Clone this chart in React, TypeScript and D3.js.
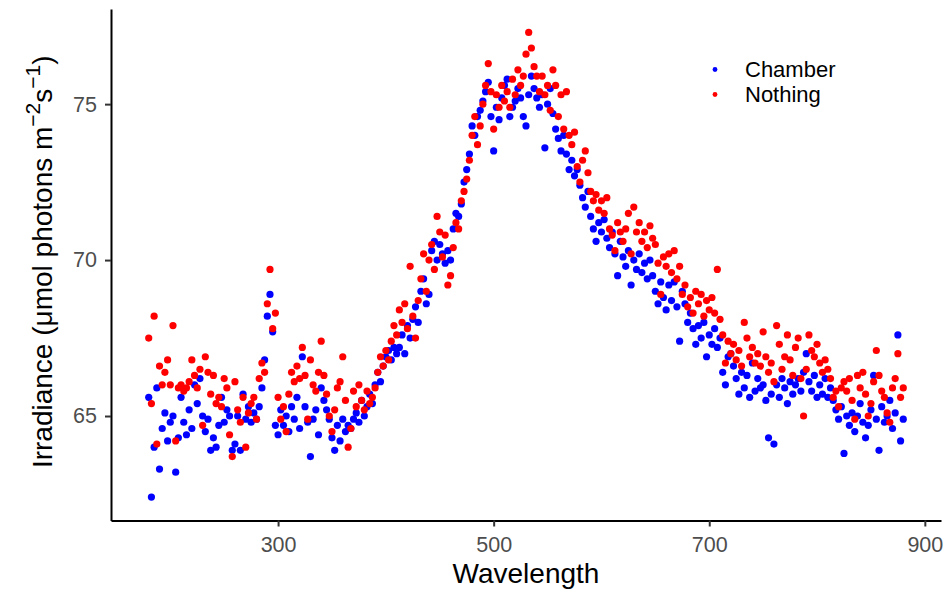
import { useEffect, useRef } from 'react';
import * as d3 from 'd3';

// spectrometer grid: 2.5 nm steps, 180 -> 880 nm
const wavelengths: number[] = d3.range(180, 880.001, 2.5);

const chamber: number[] = [
  65.6, 62.4, 64.0, 65.9, 63.3, 64.6, 65.1, 64.2, 64.8, 65.0,
  63.2, 64.3, 65.6, 64.8, 64.4, 65.2, 64.6, 66.0, 65.4, 66.2,
  65.0, 64.5, 64.9, 63.9, 64.3, 64.0, 64.7, 65.6, 64.8, 65.2,
  65.0, 63.9, 64.1, 65.0, 63.9, 65.7, 64.9, 65.3, 64.8, 65.1,
  64.9, 65.3, 65.9, 66.8, 68.2, 68.9, 67.7, 64.7, 64.4, 65.2,
  64.7, 65.0, 64.5, 65.3, 64.9, 65.6, 64.6, 66.9, 65.3, 64.8,
  63.7, 64.9, 65.2, 64.4, 65.9, 65.5, 65.2, 64.9, 64.3, 63.9,
  64.7, 64.2, 64.9, 64.5, 64.7, 64.6, 64.9, 65.1, 64.8, 65.5,
  65.0, 65.3, 65.7, 65.4, 66.0, 66.4, 66.1, 66.6, 66.9, 67.1,
  66.8, 67.2, 67.0, 67.2, 67.6, 67.0, 67.9, 67.5, 68.1, 68.5,
  68.0, 69.0, 69.4, 68.6, 68.9, 70.3, 70.6, 70.0, 70.5, 70.2,
  69.9, 70.3, 70.0, 71.0, 71.5, 71.4, 71.8, 72.5, 72.9, 73.4,
  74.3, 74.0, 74.6, 74.8, 75.1, 75.4, 75.7, 74.6, 73.5, 74.9,
  74.5, 75.2, 75.6, 75.8, 74.6, 74.9, 75.1, 75.5, 75.2, 74.6,
  74.3, 75.3, 75.9, 75.5, 75.2, 74.9, 75.3, 73.6, 75.0, 75.5,
  74.7, 74.2, 73.9, 73.5, 74.0, 73.4, 72.9, 73.2, 72.7, 72.9,
  72.4, 72.0, 71.7, 72.2, 71.4, 71.0, 70.6, 71.2, 70.9, 71.3,
  70.7, 70.4, 70.9, 70.2, 69.5, 70.6, 70.1, 69.8, 70.3, 69.2,
  70.0, 69.7, 70.2, 69.6, 69.9, 69.4, 70.0, 69.5, 69.0, 68.6,
  69.3, 68.8, 68.4, 69.2, 68.7, 69.3, 68.5, 67.4, 69.0, 68.6,
  68.0, 68.3, 67.8, 67.3, 67.9, 67.5, 68.0, 66.9, 67.6, 67.3,
  67.8, 67.2, 67.5, 66.4, 66.0, 66.9, 67.0, 66.6, 66.2, 65.7,
  66.4, 65.9, 66.3, 65.6, 66.7, 65.8, 66.2, 65.9, 66.0, 65.5,
  64.3, 65.7, 64.1, 66.0, 65.6, 66.2, 65.9, 65.4, 66.1, 65.7,
  66.0, 66.2, 65.8, 66.4, 67.0, 66.1, 65.8, 66.3, 65.6, 66.0,
  65.7, 66.2, 65.6, 65.9, 65.5, 65.2, 64.9, 65.3, 63.8, 65.0,
  64.7, 65.1, 64.5, 65.0, 65.4, 64.8, 64.3, 64.7, 65.2, 66.3,
  64.9, 63.9, 65.3, 64.8, 65.0, 65.5, 64.6, 65.1, 67.6, 64.2,
  64.9,
];

const nothing: number[] = [
  67.5, 65.4, 68.2, 64.1, 66.6, 66.0, 66.4, 66.8, 66.0, 67.9,
  64.2, 65.9, 66.0, 65.8, 65.9, 66.1, 66.8, 66.3, 65.9, 66.5,
  64.7, 66.9, 66.4, 65.7, 66.3, 65.4, 65.6, 65.3, 66.2, 65.9,
  64.4, 63.7, 66.1, 65.2, 64.8, 65.6, 64.0, 65.1, 65.4, 65.6,
  64.9, 66.2, 66.7, 66.4, 68.6, 69.7, 67.8, 68.3, 65.6, 64.9,
  65.3, 64.5, 65.7, 66.4, 66.1, 66.6, 66.2, 67.2, 66.3, 64.9,
  66.8, 66.0, 65.8, 66.4, 67.4, 66.3, 65.7, 65.0, 64.5, 65.2,
  65.9, 66.1, 66.9, 65.5, 64.0, 64.6, 65.8, 65.3, 66.0, 65.5,
  65.2, 65.8, 65.4, 65.6, 65.9, 66.4, 66.9, 66.6, 67.1, 66.8,
  67.4, 67.9, 67.6, 68.4, 68.0, 68.6, 67.8, 69.8, 68.2, 67.5,
  68.7, 69.4, 70.2, 69.0, 70.0, 70.5, 69.7, 71.4, 70.9, 70.1,
  70.8, 69.2, 69.5, 70.4, 71.2, 71.0, 71.9, 72.2, 72.6, 73.2,
  74.0, 74.6, 73.7, 74.3, 75.0, 75.6, 76.3, 75.4, 74.2, 75.3,
  74.9, 75.6, 75.1, 75.4, 74.9, 75.8, 75.3, 76.1, 75.6, 75.9,
  76.6, 77.3, 76.8, 76.2, 75.9, 75.4, 75.9, 75.3, 75.6, 74.8,
  76.1, 75.6, 74.6, 75.3, 74.2, 75.4, 74.0, 73.7, 74.1, 73.0,
  72.5, 73.2, 73.5, 72.8, 72.2, 71.9, 72.1, 71.6, 71.9, 71.5,
  72.0, 71.0, 70.8, 70.3, 71.2, 70.9, 70.6, 71.0, 71.5, 70.2,
  71.7, 70.9, 71.2, 70.6, 70.9, 70.4, 71.1, 70.7, 70.5, 69.9,
  68.9, 70.1, 69.8, 70.2, 69.6, 70.3, 69.4, 69.8, 68.9, 69.2,
  68.5, 68.8, 68.3, 69.0, 68.6, 68.9, 68.2, 68.7, 68.4, 68.8,
  68.3, 69.7, 68.1, 67.6, 66.7, 67.4, 67.0, 67.3, 66.8, 67.1,
  66.6, 68.0, 67.5, 66.9, 67.2, 66.7, 67.0, 66.6, 67.7, 66.9,
  66.4, 66.7, 66.1, 67.9, 67.3, 66.5, 66.9, 67.6, 66.8, 66.3,
  67.2, 67.5, 66.2, 65.0, 66.5, 67.6, 67.1, 66.9, 67.3, 66.7,
  66.4, 66.8, 66.5, 66.2, 65.6, 65.8, 65.3, 65.9, 66.1, 65.8,
  66.2, 65.5, 64.9, 66.3, 65.9, 66.4, 65.7, 65.0, 65.4, 66.1,
  67.1, 66.3, 65.8, 65.6, 65.1, 64.8, 65.9, 66.2, 67.0, 65.6,
  65.9,
];

const groups = ['Chamber', 'Nothing'];
const xTicks = [300, 500, 700, 900];
const yTicks = [65, 70, 75];

export default function App() {
  const svgRef = useRef<SVGSVGElement>(null);

  useEffect(() => {
    if (!svgRef.current) return;
    document.body.style.margin = '0';

    const svg = d3.select(svgRef.current);
    svg.selectAll('*').remove();

    const left = 111, right = 941, top = 9, bottom = 520.5;
    const font = '"Liberation Sans", Arial, sans-serif';
    const color = d3.scaleOrdinal<string, string>().domain(groups).range(['#0000ff', '#ff0000']);

    const x = d3.scaleLinear().domain([145, 915]).range([left, right]);
    const y = d3.scaleLinear().domain([61.65, 78.05]).range([bottom, top]);

    const data = [chamber, nothing];

    // points, Chamber underneath
    data.forEach((vals, i) => {
      svg.append('g')
        .selectAll('circle')
        .data(vals)
        .enter()
        .append('circle')
        .attr('cx', (_, j) => x(wavelengths[j]))
        .attr('cy', d => y(d))
        .attr('r', 3.6)
        .attr('fill', color(groups[i]));
    });

    // axes
    const xAxis = svg.append('g')
      .attr('transform', `translate(0,${bottom})`)
      .call(d3.axisBottom(x).tickValues(xTicks).tickSize(6).tickPadding(10).tickSizeOuter(0));
    const yAxis = svg.append('g')
      .attr('transform', `translate(${left},0)`)
      .call(d3.axisLeft(y).tickValues(yTicks).tickSize(6).tickPadding(8).tickSizeOuter(0));

    [xAxis, yAxis].forEach(ax => {
      ax.select('.domain').attr('stroke', '#000').attr('stroke-width', 2);
      ax.selectAll('.tick line').attr('stroke', '#333').attr('stroke-width', 2);
      ax.selectAll('.tick text')
        .attr('fill', '#4d4d4d')
        .attr('font-size', 21.5)
        .attr('font-family', font);
    });

    // axis titles
    svg.append('text')
      .attr('x', (left + right) / 2)
      .attr('y', 583)
      .attr('text-anchor', 'middle')
      .attr('font-family', font)
      .attr('font-size', 28)
      .attr('fill', '#000')
      .text('Wavelength');

    const yt = svg.append('text')
      .attr('transform', `translate(52,${(top + bottom) / 2 - 3}) rotate(-90)`)
      .attr('text-anchor', 'middle')
      .attr('font-family', font)
      .attr('font-size', 28)
      .attr('fill', '#000');
    yt.append('tspan').text('Irradiance (\u03bcmol photons m');
    yt.append('tspan').attr('dy', -12).attr('font-size', 21).text('\u22122');
    yt.append('tspan').attr('dy', 12).text('s');
    yt.append('tspan').attr('dy', -12).attr('font-size', 21).text('\u22121');
    yt.append('tspan').attr('dy', 12).text(')');

    // legend
    const legend = svg.append('g').attr('transform', 'translate(715,69.5)');
    groups.forEach((g, i) => {
      legend.append('circle')
        .attr('cx', 0)
        .attr('cy', i * 25)
        .attr('r', 2.4)
        .attr('fill', color(g));
      legend.append('text')
        .attr('x', 30)
        .attr('y', i * 25)
        .attr('dy', '0.35em')
        .attr('font-family', font)
        .attr('font-size', 22)
        .attr('fill', '#000')
        .text(g);
    });
  }, []);

  return <svg ref={svgRef} width={944} height={592} style={{ display: 'block', background: '#fff' }} />;
}
